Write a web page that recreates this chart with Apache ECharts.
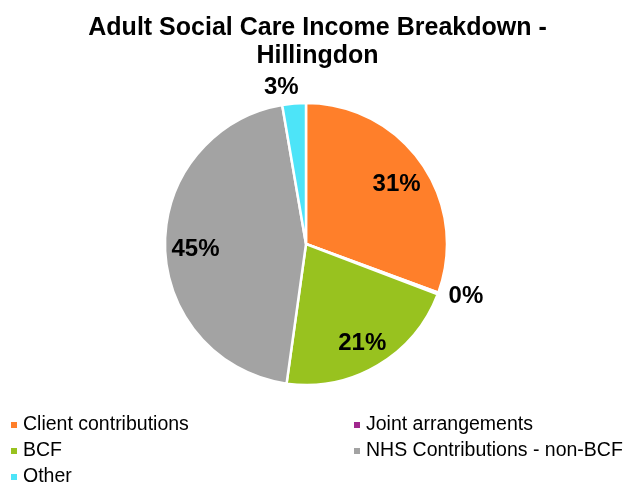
<!DOCTYPE html>
<html>
<head>
<meta charset="utf-8">
<script src="https://cdn.jsdelivr.net/npm/echarts@6/dist/echarts.min.js"></script>
<style>
html,body{margin:0;padding:0;background:#fff;}
#chart{width:635px;height:485px;}
</style>
</head>
<body>
<div id="chart"></div>
<script>
const titleLines = ['Adult Social Care Income Breakdown -', 'Hillingdon'];
const categories = ['Client contributions', 'Joint arrangements', 'BCF', 'NHS Contributions - non-BCF', 'Other'];
const values = [30.6, 0.2, 21.4, 45.1, 2.7];
const sliceColors = ['#FF7F2A', '#A1288E', '#98C21F', '#A3A3A3', '#4DE4F8'];
const legendLeftColumn = ['Client contributions', 'BCF', 'Other'];
const legendRightColumn = ['Joint arrangements', 'NHS Contributions - non-BCF'];

const FONT = "'Liberation Sans', Arial, sans-serif";
const total = values.reduce((a, b) => a + b, 0);
const isSmall = v => v / total < 0.05;

// Per-item label tweaks for the small outside labels
const outsideTweaks = {
  'Joint arrangements': { length: 8, dist: 3 },
  'Other': { length: 16, dist: -6 }
};

const mainData = categories.map((name, i) => {
  const small = isSmall(values[i]);
  const tw = outsideTweaks[name] || { length: 6, dist: 5 };
  return {
    name: name,
    value: values[i],
    itemStyle: { color: sliceColors[i] },
    label: { show: small, position: 'outside', distanceToLabelLine: tw.dist },
    labelLine: { show: false, length: tw.length, length2: 0 }
  };
});

const overlayData = categories.map((name, i) => ({
  name: name,
  value: values[i],
  label: { show: !isSmall(values[i]) }
}));

const labelStyle = {
  formatter: '{d}%',
  fontFamily: FONT,
  fontSize: 24,
  fontWeight: 'bold',
  color: '#000'
};

const legendCommon = {
  orient: 'vertical',
  top: 410,
  height: 80,
  itemGap: 6,
  itemWidth: 8,
  itemHeight: 8,
  icon: 'rect',
  selectedMode: false,
  textStyle: { fontFamily: FONT, fontSize: 19.5, color: '#000' }
};

const chart = echarts.init(document.getElementById('chart'), null, { renderer: 'canvas' });
chart.setOption({
  animation: false,
  backgroundColor: '#fff',
  title: {
    text: titleLines.join('\n'),
    left: 'center',
    top: 9,
    textStyle: { fontFamily: FONT, fontSize: 25, fontWeight: 'bold', color: '#000', lineHeight: 28 }
  },
  legend: [
    Object.assign({}, legendCommon, { left: 4, data: legendLeftColumn }),
    Object.assign({}, legendCommon, { left: 347, data: legendRightColumn })
  ],
  series: [
    {
      name: 'Income',
      type: 'pie',
      center: [306, 244],
      radius: [0, 141],
      startAngle: 90,
      clockwise: true,
      percentPrecision: 0,
      avoidLabelOverlap: false,
      itemStyle: { borderColor: '#fff', borderWidth: 2.5 },
      label: labelStyle,
      emphasis: { disabled: true },
      data: mainData
    },
    {
      name: 'Labels',
      type: 'pie',
      center: [306, 248],
      radius: [74, 141],
      startAngle: 90,
      clockwise: true,
      percentPrecision: 0,
      silent: true,
      z: 5,
      itemStyle: { color: 'rgba(0,0,0,0)', borderWidth: 0 },
      label: Object.assign({ position: 'inside' }, labelStyle),
      labelLine: { show: false },
      emphasis: { disabled: true },
      data: overlayData
    }
  ]
});
</script>
</body>
</html>
